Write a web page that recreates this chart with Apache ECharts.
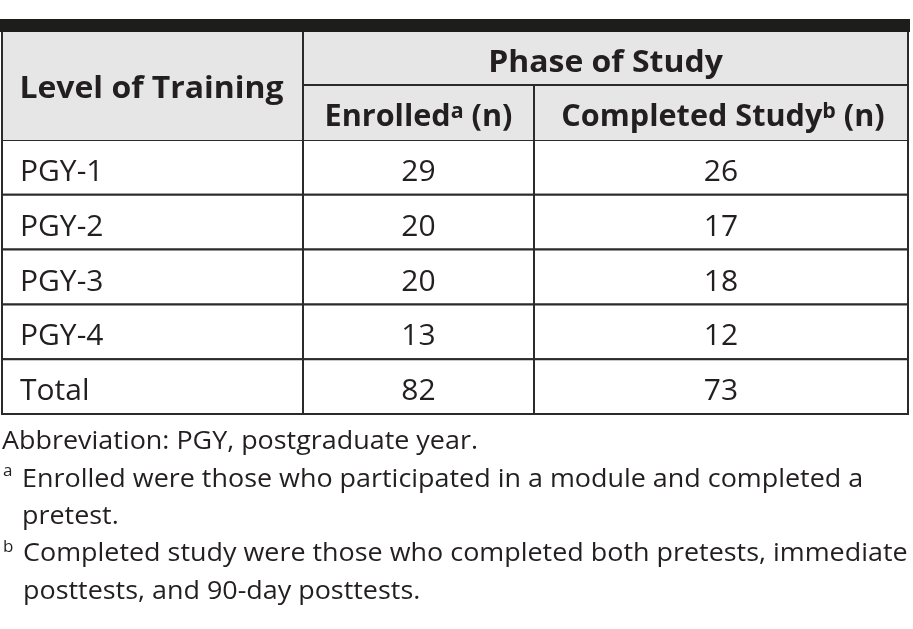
<!DOCTYPE html>
<html>
<head>
<meta charset="utf-8">
<script src="https://cdn.jsdelivr.net/npm/echarts@6.0.0/dist/echarts.min.js"></script>
<style>
  html, body { margin: 0; padding: 0; background: #ffffff; }
  #chart { width: 913px; height: 629px; }
</style>
</head>
<body>
<div id="chart"></div>
<script>
// ---- data ----
const levels = ['PGY-1', 'PGY-2', 'PGY-3', 'PGY-4', 'Total'];
const enrolled = [29, 20, 20, 13, 82];
const completed = [26, 17, 18, 12, 73];
const headerLevel = 'Level of Training';
const headerPhase = 'Phase of Study';
const headerEnrolled = ['Enrolled', 'a', ' (n)'];
const headerCompleted = ['Completed Study', 'b', ' (n)'];
const footAbbrev = 'Abbreviation: PGY, postgraduate year.';
const footA = ['Enrolled were those who participated in a module and completed a', 'pretest.'];
const footB = ['Completed study were those who completed both pretests, immediate', 'posttests, and 90-day posttests.'];

// ---- layout / style constants ----
const colEdges = [2, 303, 534, 908];
const lineColor = '#2b2b2b';
const textColor = '#231f20';
const FONT = '"Open Sans", "Liberation Sans", sans-serif';

// cells built from the arrays
const cells = [];
const cellText = [];
levels.forEach((lv, r) => {
  cells.push([0, r]); cellText.push(lv);
  cells.push([1, r]); cellText.push(String(enrolled[r]));
  cells.push([2, r]); cellText.push(String(completed[r]));
});

const chart = echarts.init(document.getElementById('chart'), null, { renderer: 'canvas' });

function line(x1, y1, x2, y2) {
  return { type: 'line', shape: { x1, y1, x2, y2 }, style: { stroke: lineColor, lineWidth: 2 }, z: 10 };
}
function hdrText(x, y, str) {
  return { type: 'text', x, y, z: 20, scaleX: 1.03, style: { text: str, align: 'center', verticalAlign: 'middle',
    font: 'bold 31px ' + FONT, fill: textColor } };
}
function supText(x, y, parts) {
  return { type: 'text', x, y, z: 20, scaleX: 1.02, style: {
    text: parts[0] + '{s|' + parts[1] + '}' + parts[2],
    align: 'center', verticalAlign: 'middle',
    font: 'bold 30px ' + FONT, fill: textColor, lineHeight: 30,
    rich: { s: { font: 'bold 21px ' + FONT, fill: textColor, verticalAlign: 'top', lineHeight: 6 } }
  } };
}
const footFont = '26px ' + FONT;
const footScale = 1.035;
function foot(x, y, str) {
  return { type: 'text', x, y, z: 20, scaleX: footScale, style: { text: str, align: 'left', verticalAlign: 'middle', font: footFont, fill: textColor } };
}
function footSup(x, y, str) {
  return { type: 'text', x, y, z: 20, style: { text: str, align: 'left', verticalAlign: 'middle', font: '17px ' + FONT, fill: textColor } };
}

const option = {
  animation: false,
  backgroundColor: '#ffffff',
  grid: { left: 0, right: 0, top: 140, bottom: 215 },
  xAxis: { type: 'value', min: 0, max: 913, show: false },
  yAxis: { type: 'category', data: levels, inverse: true, show: false },
  graphic: [
    { type: 'rect', shape: { x: 0, y: 19, width: 910, height: 13 }, style: { fill: '#1d1d1b' }, z: 5 },
    { type: 'rect', shape: { x: 2, y: 32, width: 906, height: 108 }, style: { fill: '#e6e6e6' }, z: 5 },
    line(2, 32, 2, 140),
    line(colEdges[1], 32, colEdges[1], 140),
    line(colEdges[3], 32, colEdges[3], 140),
    line(colEdges[2], 85, colEdges[2], 140),
    line(colEdges[1], 85, colEdges[3], 85),
    hdrText((colEdges[0] + colEdges[1]) / 2 - 1, 89, headerLevel),
    hdrText((colEdges[1] + colEdges[3]) / 2, 63, headerPhase),
    supText((colEdges[1] + colEdges[2]) / 2, 117, headerEnrolled),
    supText((colEdges[2] + colEdges[3]) / 2 + 2, 117, headerCompleted),
    foot(2, 442, footAbbrev),
    footSup(3, 471, 'a'),
    foot(22, 480, footA[0]),
    foot(22, 517, footA[1]),
    footSup(3, 547, 'b'),
    foot(23, 554, footB[0]),
    foot(23, 592, footB[1])
  ],
  series: [{
    type: 'custom',
    coordinateSystem: 'cartesian2d',
    data: cells,
    renderItem: function (params, api) {
      const c = api.value(0), r = api.value(1);
      const x0 = api.coord([colEdges[c], r])[0];
      const x1 = api.coord([colEdges[c + 1], r])[0];
      const cy = api.coord([0, r])[1];
      const h = api.size([0, 1])[1];
      const txt = cellText[params.dataIndex];
      return {
        type: 'group',
        children: [
          { type: 'rect', shape: { x: x0, y: cy - h / 2, width: x1 - x0, height: h },
            style: { fill: '#ffffff', stroke: lineColor, lineWidth: 2 } },
          { type: 'text', style: { text: txt, x: c === 0 ? x0 + 18 : (x0 + x1) / 2, y: cy + 5,
            align: c === 0 ? 'left' : 'center', verticalAlign: 'middle',
            font: '30px ' + FONT, fill: textColor } }
        ]
      };
    }
  }]
};
chart.setOption(option);
</script>
</body>
</html>
